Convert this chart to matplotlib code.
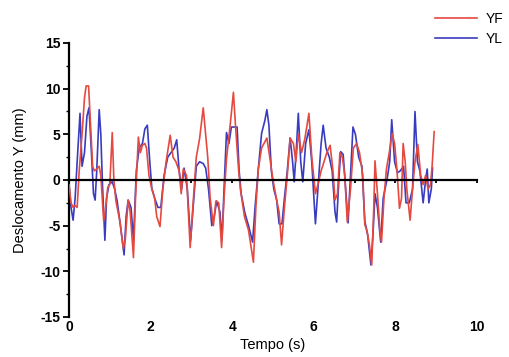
import matplotlib
matplotlib.use("Agg")
import matplotlib.pyplot as plt
from matplotlib.ticker import MultipleLocator

plt.rcParams['font.family'] = ['Liberation Sans', 'DejaVu Sans']
plt.rcParams['axes.unicode_minus'] = False

# YF series (time in s, displacement in mm)
t_yf = [0.0, 0.05, 0.1, 0.15, 0.2, 0.25, 0.32, 0.38, 0.42, 0.48, 0.53, 0.58, 0.62, 0.68, 0.74, 0.78,
        0.85, 0.9, 0.95, 1.0, 1.06, 1.1, 1.15, 1.25, 1.33, 1.38, 1.45, 1.5, 1.58, 1.63, 1.70, 1.75,
        1.8, 1.86, 1.9, 1.96, 2.03, 2.1, 2.15, 2.23, 2.3, 2.38, 2.48, 2.55, 2.62, 2.7, 2.75, 2.8,
        2.88, 2.97, 3.05, 3.12, 3.2, 3.29, 3.35, 3.4, 3.46, 3.54, 3.6, 3.67, 3.74, 3.8, 3.86, 3.95,
        4.03, 4.08, 4.15, 4.2, 4.3, 4.4, 4.52, 4.58, 4.64, 4.72, 4.85, 4.92, 5.0, 5.09, 5.15, 5.21,
        5.28, 5.35, 5.42, 5.5, 5.56, 5.62, 5.7, 5.78, 5.88, 5.95, 6.04, 6.1, 6.18, 6.25, 6.32, 6.4,
        6.47, 6.52, 6.58, 6.64, 6.7, 6.76, 6.82, 6.9, 6.97, 7.05, 7.12, 7.2, 7.25, 7.3, 7.36, 7.42,
        7.47, 7.5, 7.56, 7.62, 7.66, 7.72, 7.78, 7.85, 7.92, 7.98, 8.04, 8.1, 8.15, 8.19, 8.24, 8.28,
        8.36, 8.42, 8.48, 8.55, 8.62, 8.68, 8.74, 8.8, 8.86, 8.9, 8.95]
yf = [-0.5, -2.5, -3.0, -2.8, -3.0, 1.0, 5.0, 9.0, 10.3, 10.3, 6.0, 1.5, 1.0, 1.2, 1.5, 0.5,
      -4.5, -3.0, -0.8, -0.5, 5.2, 0.0, -2.3, -4.6, -7.5, -6.5, -2.2, -3.5, -8.5, -2.0, 4.7, 3.0,
      3.8, 4.0, 3.5, 0.5, -1.0, -2.0, -4.0, -5.1, -1.0, 2.0, 4.9, 2.5, 2.0, 1.0, -1.5, 1.2,
      0.5, -7.4, -2.0, 2.5, 4.5, 7.9, 5.0, 2.5, -2.0, -5.0, -2.3, -2.5, -7.4, -2.0, 2.3, 6.0,
      9.6, 6.0, 1.5, -1.0, -4.0, -5.5, -9.0, -3.0, 1.2, 3.5, 4.6, 2.5, 0.0, -2.2, -3.5, -7.1,
      -3.0, 0.5, 4.6, 4.0, 2.0, 5.0, 3.0, 4.5, 7.3, 2.5, -1.5, -0.5, 1.0, 2.0, 3.0, 3.8,
      1.0, -2.2, -1.5, 3.0, 2.5, 0.5, -4.6, -1.0, 3.5, 4.0, 3.0, 0.5, -4.9, -5.5, -7.0, -9.3,
      -3.0, 2.1, -1.5, -5.5, -6.8, -2.0, 1.2, 3.0, 5.1, 4.0, 1.0, -3.1, -2.0, 4.0, 2.0, -1.0,
      -4.4, -1.0, 2.0, 3.9, 0.5, -0.5, 0.5, -1.0, -0.5, 1.5, 5.3]

# YL series
t_yl = [0.0, 0.05, 0.1, 0.15, 0.2, 0.27, 0.32, 0.38, 0.44, 0.49, 0.55, 0.6, 0.64, 0.68, 0.74, 0.78,
        0.82, 0.88, 0.92, 0.98, 1.06, 1.12, 1.18, 1.25, 1.35, 1.4, 1.45, 1.52, 1.58, 1.65, 1.72, 1.8,
        1.86, 1.92, 1.98, 2.03, 2.1, 2.18, 2.25, 2.33, 2.42, 2.5, 2.58, 2.64, 2.7, 2.76, 2.82, 2.9,
        2.98, 3.05, 3.12, 3.2, 3.29, 3.35, 3.42, 3.5, 3.56, 3.62, 3.7, 3.75, 3.8, 3.86, 3.92, 3.98,
        4.05, 4.12, 4.17, 4.22, 4.31, 4.4, 4.5, 4.56, 4.64, 4.72, 4.8, 4.85, 4.9, 4.96, 5.02, 5.09,
        5.15, 5.22, 5.28, 5.35, 5.42, 5.48, 5.52, 5.58, 5.62, 5.68, 5.73, 5.8, 5.88, 5.95, 6.04, 6.1,
        6.18, 6.23, 6.3, 6.38, 6.45, 6.52, 6.56, 6.62, 6.66, 6.72, 6.78, 6.84, 6.9, 6.96, 7.02, 7.1,
        7.18, 7.25, 7.32, 7.4, 7.45, 7.5, 7.56, 7.64, 7.7, 7.8, 7.86, 7.91, 7.98, 8.05, 8.12, 8.2,
        8.26, 8.34, 8.42, 8.48, 8.54, 8.6, 8.68, 8.74, 8.78, 8.82, 8.88, 8.91]
yl = [-0.5, -3.0, -4.4, -2.0, 2.0, 7.3, 1.5, 3.0, 7.0, 7.9, 3.0, -1.5, -2.2, 1.0, 7.7, 5.0,
      -0.5, -6.6, -2.0, -0.5, -0.2, -1.0, -2.3, -4.6, -8.2, -4.0, -2.2, -3.0, -6.6, 1.0, 3.5, 4.0,
      5.6, 6.0, 2.0, -0.9, -2.0, -3.0, -3.0, 0.5, 2.5, 3.0, 3.5, 4.4, 1.0, -1.0, 1.3, -1.0,
      -6.6, -2.5, 1.5, 2.0, 1.8, 1.3, -1.0, -5.0, -4.0, -2.3, -3.5, -6.6, -1.0, 5.2, 4.0, 5.8,
      5.8, 5.8, 1.0, -1.5, -3.6, -5.0, -6.8, -3.0, 1.2, 5.1, 6.5, 7.7, 6.0, 1.0, -1.0, -2.2,
      -4.8, -4.8, -2.0, 1.0, 4.6, 2.0, -0.2, 4.0, 7.3, 2.0, -0.2, 4.0, 5.5, 2.0, -4.8, -1.0,
      4.0, 6.0, 3.5, 2.5, 1.0, -3.5, -4.6, 0.5, 3.1, 2.8, -1.0, -4.7, 0.5, 5.8, 5.0, 2.5,
      1.5, -4.5, -6.0, -9.3, -6.0, -1.5, -3.0, -6.8, -2.0, 0.2, 2.0, 6.6, 2.0, 0.8, 1.0, 1.5,
      -2.5, -2.5, -1.0, 7.5, 2.0, 1.0, -2.5, 0.0, 1.2, -2.5, -1.0, 1.3]

x_ticks = [0, 2, 4, 6, 8, 10]
y_ticks = [-15, -10, -5, 0, 5, 10, 15]

fig = plt.figure(figsize=(5.09, 3.57), dpi=100)
ax = fig.add_axes([69/509, 40/357, (477-69)/509, (317-43)/357])

ax.plot(t_yf, yf, color='#e44a40', lw=1.2, label='YF', zorder=3)
ax.plot(t_yl, yl, color='#3a3cc0', lw=1.2, label='YL', zorder=2)

ax.set_xlim(0, 10)
ax.set_ylim(-15, 15)

for s in ['top', 'right']:
    ax.spines[s].set_visible(False)
ax.spines['left'].set_linewidth(1.6)
ax.spines['bottom'].set_position(('data', 0))
ax.spines['bottom'].set_linewidth(1.6)
ax.spines['bottom'].set_zorder(4)

ax.set_yticks(y_ticks)
ax.yaxis.set_minor_locator(MultipleLocator(2.5))
ax.tick_params(axis='y', which='major', direction='out', length=4, width=1.3, labelsize=10, pad=2)
ax.tick_params(axis='y', which='minor', direction='out', length=2, width=1.0)
for lab in ax.get_yticklabels():
    lab.set_fontweight('semibold')

ax.set_xticks(x_ticks)
ax.xaxis.set_minor_locator(MultipleLocator(1))
ax.tick_params(axis='x', which='both', direction='out', length=2.5, width=1.3, labelbottom=False)

sec = ax.secondary_xaxis(0)
sec.spines['bottom'].set_visible(False)
sec.set_xticks(x_ticks)
sec.tick_params(axis='x', length=0, labelsize=10, pad=2)
for lab in sec.get_xticklabels():
    lab.set_fontweight('semibold')
sec.set_xlabel('Tempo (s)', fontsize=10.5, labelpad=3)

ax.set_ylabel('Deslocamento Y (mm)', fontsize=10.5, labelpad=10)

fig.legend(loc='upper right', bbox_to_anchor=(1.005, 0.99), frameon=False, fontsize=10,
           handlelength=3.0, labelspacing=0.45, handletextpad=0.6, borderaxespad=0.2)

fig.savefig('out.png', dpi=100)
